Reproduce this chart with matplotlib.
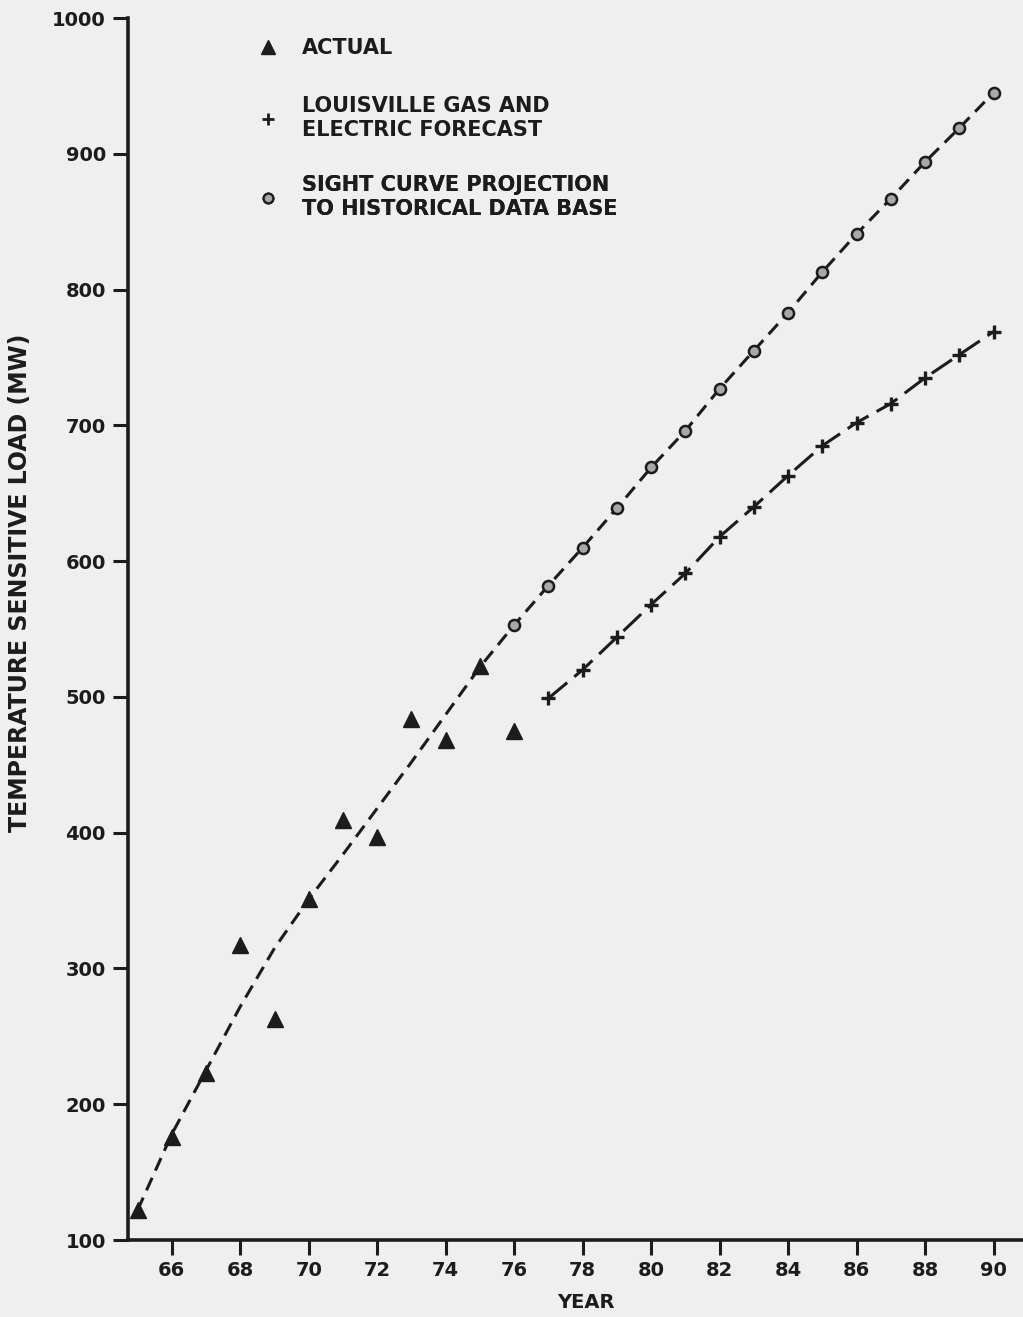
import matplotlib
matplotlib.use("Agg")
import matplotlib.pyplot as plt
from matplotlib.lines import Line2D

# ---- data ----
actual_years = [65, 66, 67, 68, 69, 70, 71, 72, 73, 74, 75, 76]
actual_load = [122, 176, 223, 317, 263, 351, 409, 397, 484, 468, 523, 475]

curve_years = [65, 66, 67, 68, 69, 70, 71, 72, 73, 74, 75, 76, 77, 78, 79,
               80, 81, 82, 83, 84, 85, 86, 87, 88, 89, 90]
curve_load = [122, 178, 225, 272, 315, 351, 384, 418, 452, 487, 522, 553,
              582, 610, 639, 669, 696, 727, 755, 783, 813, 841, 867, 894, 919, 945]
curve_marker_start = 11  # circles drawn from 1976 on

forecast_years = [77, 78, 79, 80, 81, 82, 83, 84, 85, 86, 87, 88, 89, 90]
forecast_load = [499, 520, 544, 568, 591, 618, 640, 663, 685, 702, 716, 735, 752, 769]

x_ticks = [66, 68, 70, 72, 74, 76, 78, 80, 82, 84, 86, 88, 90]
y_ticks = [100, 200, 300, 400, 500, 600, 700, 800, 900, 1000]

legend_labels = ["ACTUAL",
                 "LOUISVILLE GAS AND\nELECTRIC FORECAST",
                 "SIGHT CURVE PROJECTION\nTO HISTORICAL DATA BASE"]

# ---- style ----
BG = "#efefef"
INK = "#1c1c1c"
plt.rcParams["font.family"] = ["DejaVu Sans"]
plt.rcParams["font.weight"] = "bold"
FS = 14
LFS = 15

W, H = 1023, 1317
fig = plt.figure(figsize=(W / 100, H / 100), dpi=100, facecolor=BG)
ax = fig.add_axes([128 / W, 1 - 1240 / H, 1 - 128 / W, (1240 - 18) / H])
ax.set_facecolor(BG)

ax.set_xlim(64.72, 90.86)
ax.set_ylim(100, 1000)

# sight curve
ax.plot(curve_years, curve_load, color=INK, lw=2.2, linestyle=(0, (4.5, 2.6)),
        marker="o", markevery=list(range(curve_marker_start, len(curve_years))),
        markersize=8, markerfacecolor="#a8a8a8", markeredgecolor=INK,
        markeredgewidth=1.8, zorder=2)
# forecast
ax.plot(forecast_years, forecast_load, color=INK, lw=2.2, linestyle=(0, (8, 3)),
        marker="+", markersize=10, markeredgewidth=2.4, zorder=3)
# actual
ax.plot(actual_years, actual_load, linestyle="none", marker="^",
        markersize=12, color=INK, zorder=4, clip_on=False)

for s in ["top", "right"]:
    ax.spines[s].set_visible(False)
for s in ["left", "bottom"]:
    ax.spines[s].set_linewidth(2.6)
    ax.spines[s].set_color(INK)

ax.set_xticks(x_ticks)
ax.set_xticklabels([str(v) for v in x_ticks])
ax.set_yticks(y_ticks)
ax.set_yticklabels([str(v) for v in y_ticks])
ax.tick_params(axis="both", direction="out", length=11, width=2.2,
               color=INK, labelcolor=INK, labelsize=FS)
ax.tick_params(axis="x", pad=4)
ax.tick_params(axis="y", pad=5)

ax.set_xlabel("YEAR", fontsize=FS, color=INK, fontweight="bold")
ax.xaxis.set_label_coords((586 - 128) / (W - 128), -(1303 - 1240) / (1240 - 18))
ax.xaxis.label.set_va("center")
ax.set_ylabel("TEMPERATURE SENSITIVE LOAD (MW)", fontsize=17, color=INK,
              fontweight="bold")
ax.yaxis.set_label_coords(-(128 - 20) / (W - 128), (1240 - 583) / (1240 - 18))
ax.yaxis.label.set_va("center")

handles = [
    Line2D([], [], linestyle="none", marker="^", markersize=10, color=INK),
    Line2D([], [], linestyle="none", marker="+", markersize=9,
           markeredgewidth=2.0, color=INK),
    Line2D([], [], linestyle="none", marker="o", markersize=7,
           markerfacecolor="#a8a8a8", markeredgecolor=INK, markeredgewidth=1.6),
]
entry_centers = [48, 118, 197]  # pixel rows of the legend entries
fs_px = LFS * 100 / 72
for h, lab, yc in zip(handles, legend_labels, entry_centers):
    leg = ax.legend([h], [lab], loc="center left",
                    bbox_to_anchor=(258 / W, 1 - yc / H),
                    bbox_transform=fig.transFigure,
                    frameon=False, fontsize=LFS, handlelength=1.0,
                    handletextpad=(302 - 258 - fs_px) / fs_px,
                    borderaxespad=0, borderpad=0)
    for t in leg.get_texts():
        t.set_color(INK)
        t.set_fontweight("bold")
        t.set_linespacing(1.3)
    ax.add_artist(leg)

fig.savefig("out.png", dpi=100, facecolor=BG)
